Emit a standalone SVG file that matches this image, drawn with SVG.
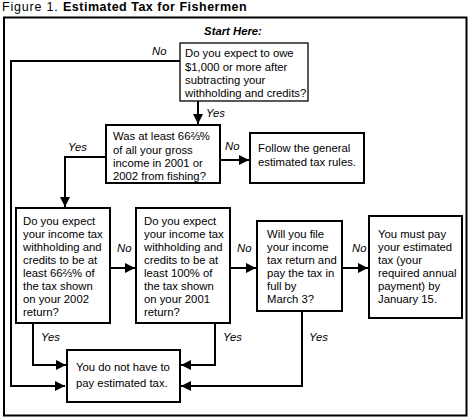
<svg xmlns="http://www.w3.org/2000/svg" width="469" height="419" viewBox="0 0 469 419">
<style>
text{font-family:"Liberation Sans",Arial,Helvetica,sans-serif;font-size:11.3px;fill:#000}
.lbl{font-style:italic}
.box{fill:#fff;stroke:#000;stroke-width:2}
.thin{stroke-width:1.3}
.ln{fill:none;stroke:#000;stroke-width:2}
.title{font-size:12.5px}
</style>
<defs>
<marker id="ah" markerUnits="userSpaceOnUse" markerWidth="11" markerHeight="11" refX="10" refY="5" orient="auto">
<path d="M0,0 L10,5 L0,10 z" fill="#000"/>
</marker>
</defs>
<rect width="469" height="419" fill="#fff"/>
<text class="title" x="2" y="11" letter-spacing="0.8">Figure 1.</text>
<text class="title" x="63" y="11" font-weight="bold" letter-spacing="0.5">Estimated Tax for Fishermen</text>
<rect x="4" y="17.5" width="462.5" height="398" fill="none" stroke="#000" stroke-width="2"/>
<text x="233" y="35" text-anchor="middle" font-weight="bold" font-style="italic">Start Here:</text>

<g id="connectors">
<polyline class="ln" points="180,61 11,61 11,386 65,386" marker-end="url(#ah)"/>
<line class="ln" x1="198" y1="101" x2="198" y2="124" marker-end="url(#ah)"/>
<line class="ln" x1="220" y1="160" x2="249" y2="160" marker-end="url(#ah)"/>
<polyline class="ln" points="106,157 65,157 65,207" marker-end="url(#ah)"/>
<line class="ln" x1="110" y1="268" x2="135" y2="268" marker-end="url(#ah)"/>
<line class="ln" x1="230" y1="268" x2="256" y2="268" marker-end="url(#ah)"/>
<line class="ln" x1="342" y1="268" x2="368" y2="268" marker-end="url(#ah)"/>
<polyline class="ln" points="33,323 33,365 66,365" marker-end="url(#ah)"/>
<polyline class="ln" points="215,323 215,365 181,365" marker-end="url(#ah)"/>
<polyline class="ln" points="302,311 302,386 181,386" marker-end="url(#ah)"/>
<text class="lbl" x="152" y="55">No</text>
<text class="lbl" x="206" y="117">Yes</text>
<text class="lbl" x="68" y="151">Yes</text>
<text class="lbl" x="225" y="150">No</text>
<text class="lbl" x="117" y="252">No</text>
<text class="lbl" x="237" y="252">No</text>
<text class="lbl" x="352" y="252">No</text>
<text class="lbl" x="41" y="341">Yes</text>
<text class="lbl" x="223" y="341">Yes</text>
<text class="lbl" x="309" y="341">Yes</text>
</g>

<g id="q1">
<rect class="box thin" x="180" y="43" width="128" height="58"/>
<text x="185" y="57">Do you expect to owe</text>
<text x="185" y="70.5">$1,000 or more after</text>
<text x="185" y="84">subtracting your</text>
<text x="185" y="97">withholding and credits?</text>
</g>

<g id="q2">
<rect class="box" x="106" y="125" width="114" height="58"/>
<text x="113" y="140">Was at least 66⅔%</text>
<text x="113" y="153.5">of all your gross</text>
<text x="113" y="167">income in 2001 or</text>
<text x="113" y="180">2002 from fishing?</text>
</g>

<g id="general">
<rect class="box" x="250" y="133" width="114" height="50"/>
<text x="258" y="152">Follow the general</text>
<text x="258" y="166">estimated tax rules.</text>
</g>

<g id="q3">
<rect class="box" x="16" y="208" width="94" height="115"/>
<text x="23" y="225">Do you expect</text>
<text x="23" y="238">your income tax</text>
<text x="23" y="251">withholding and</text>
<text x="23" y="264">credits to be at</text>
<text x="23" y="277">least 66⅔% of</text>
<text x="23" y="290">the tax shown</text>
<text x="23" y="303">on your 2002</text>
<text x="23" y="316">return?</text>
</g>

<g id="q4">
<rect class="box" x="136" y="208" width="94" height="115"/>
<text x="144" y="225">Do you expect</text>
<text x="144" y="238">your income tax</text>
<text x="144" y="251">withholding and</text>
<text x="144" y="264">credits to be at</text>
<text x="144" y="277">least 100% of</text>
<text x="144" y="290">the tax shown</text>
<text x="144" y="303">on your 2001</text>
<text x="144" y="316">return?</text>
</g>

<g id="q5">
<rect class="box" x="257" y="221" width="85" height="90"/>
<text x="267" y="238">Will you file</text>
<text x="267" y="251">your income</text>
<text x="267" y="264">tax return and</text>
<text x="267" y="277">pay the tax in</text>
<text x="267" y="290">full by</text>
<text x="267" y="303">March 3?</text>
</g>

<g id="mustpay">
<rect class="box" x="369" y="216" width="93" height="102"/>
<text x="378" y="238">You must pay</text>
<text x="378" y="251">your estimated</text>
<text x="378" y="264">tax (your</text>
<text x="378" y="277">required annual</text>
<text x="378" y="290">payment) by</text>
<text x="378" y="303">January 15.</text>
</g>

<g id="nopay">
<rect class="box" x="67" y="350" width="113" height="52"/>
<text x="76" y="371">You do not have to</text>
<text x="76" y="387">pay estimated tax.</text>
</g>
</svg>
